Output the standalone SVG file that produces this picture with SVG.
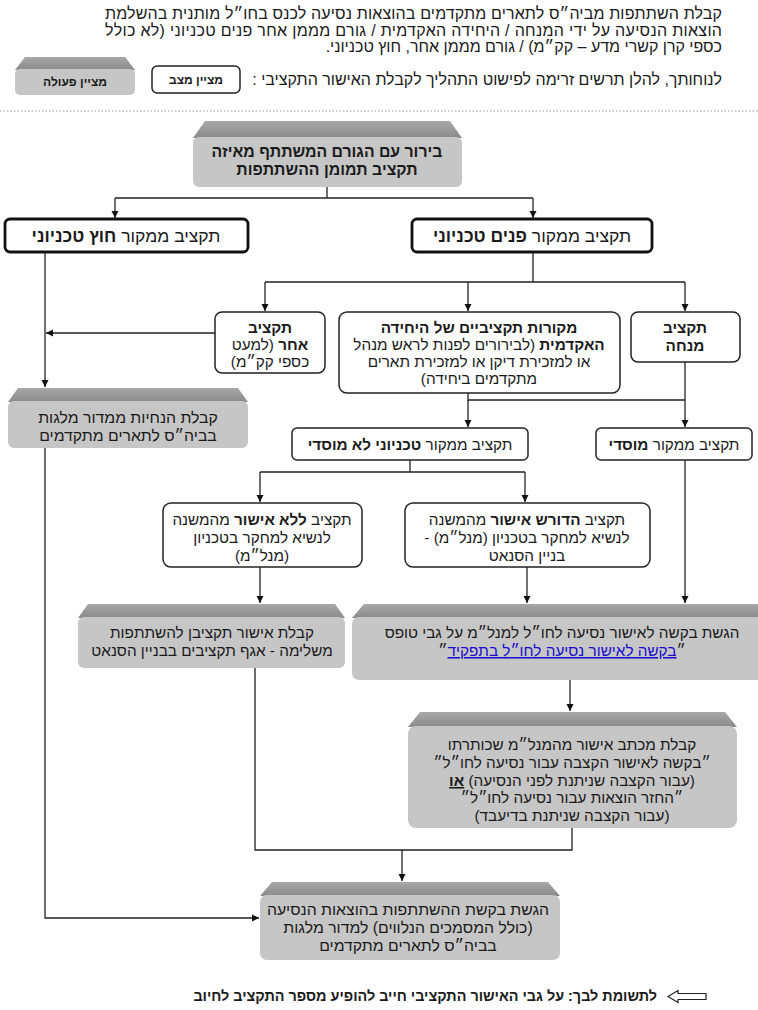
<svg xmlns="http://www.w3.org/2000/svg" width="758" height="1010" viewBox="0 0 758 1010">
<defs>
<marker id="ah" markerWidth="8" markerHeight="8" refX="7" refY="4" orient="auto" markerUnits="userSpaceOnUse">
<path d="M0,0.5 L7,4 L0,7.5 Z" fill="#111"/>
</marker>
<linearGradient id="bev" x1="0" y1="0" x2="0" y2="1">
<stop offset="0" stop-color="#a8a8a8"/>
<stop offset="1" stop-color="#8a8a8a"/>
</linearGradient>
</defs>
<style>
text{font-family:"Liberation Sans",Arial,"DejaVu Sans",sans-serif;fill:#1a1a1a;direction:rtl;}
.c{text-anchor:middle;font-size:15.3px;}
.h{font-size:16px;text-anchor:start;}
.b{font-weight:bold;}
.st{fill:#fff;stroke:#222;stroke-width:1.5;}
.stb{fill:#fff;stroke:#111;stroke-width:2.8;}
.body{fill:#c6c6c6;}
.bevel{fill:url(#bev);}
.ln{fill:none;stroke:#222;stroke-width:1.3;}
.ar{fill:none;stroke:#222;stroke-width:1.3;marker-end:url(#ah);}
.lnk{fill:#1a0dcc;text-decoration:underline;}
</style>
<rect width="758" height="1010" fill="#fff"/>

<g id="header">
<text class="h" x="722" y="19" textLength="617" lengthAdjust="spacing">קבלת השתתפות מביה״ס לתארים מתקדמים בהוצאות נסיעה לכנס בחו״ל מותנית בהשלמת</text>
<text class="h" x="722" y="36" textLength="617" lengthAdjust="spacing">הוצאות הנסיעה על ידי המנחה / היחידה האקדמית / גורם מממן אחר פנים טכניוני (לא כולל</text>
<text class="h" x="722" y="52">כספי קרן קשרי מדע – קק״מ) / גורם מממן אחר, חוץ טכניוני.</text>
<text class="h" x="722" y="85">לנוחותך, להלן תרשים זרימה לפישוט התהליך לקבלת האישור התקציבי :</text>
</g>

<g id="legend-action">
<path class="bevel" d="M25,57 L125,57 L135,70 L15,70 Z"/>
<rect class="body" x="15" y="69" width="120" height="26" rx="5"/>
<text class="c b" x="75" y="86" style="font-size:12px">מציין פעולה</text>
</g>
<g id="legend-state">
<rect class="st" x="152" y="66" width="88" height="27" rx="5"/>
<text class="c b" x="196" y="84" style="font-size:12px">מציין מצב</text>
</g>

<line x1="0" y1="111" x2="758" y2="111" stroke="#999" stroke-width="1" stroke-dasharray="1.5,2"/>

<g id="connectors">
<path class="ln" d="M327,187 V198 M115,198 H533"/>
<path class="ar" d="M115,198 V218"/>
<path class="ar" d="M533,198 V218"/>
<path class="ar" d="M45,252 V387"/>
<path class="ar" d="M215,333 H46"/>
<path class="ln" d="M533,252 V282 M265,282 H685"/>
<path class="ar" d="M265,282 V311"/>
<path class="ar" d="M468,282 V311"/>
<path class="ar" d="M685,282 V311"/>
<path class="ln" d="M468,393 V400 H685"/>
<path class="ar" d="M468,400 V427"/>
<path class="ar" d="M685,362 V427"/>
<path class="ln" d="M410,460 V472 M260,472 H525"/>
<path class="ar" d="M260,472 V502"/>
<path class="ar" d="M525,472 V502"/>
<path class="ar" d="M685,460 V603"/>
<path class="ar" d="M260,567 V603"/>
<path class="ar" d="M527,567 V603"/>
<path class="ar" d="M570,680 V711"/>
<path class="ln" d="M255,668 V850 H572 V828"/>
<path class="ar" d="M402,850 V881"/>
<path class="ar" d="M45,448 V918 H259"/>
</g>

<g id="n-top">
<path class="bevel" d="M205,121 L450,121 L462,138 L193,138 Z"/>
<rect class="body" x="193" y="137" width="269" height="50" rx="6"/>
<text class="c b" x="327" y="157" style="font-size:15.8px">בירור עם הגורם המשתתף מאיזה</text>
<text class="c b" x="327" y="175" style="font-size:15.8px">תקציב תמומן ההשתתפות</text>
</g>

<g id="n-external">
<rect class="stb" x="5" y="219" width="243" height="33" rx="5"/>
<text class="c" x="126" y="242" style="font-size:17.5px">תקציב ממקור <tspan class="b">חוץ טכניוני</tspan></text>
</g>
<g id="n-internal">
<rect class="stb" x="412" y="219" width="240" height="33" rx="5"/>
<text class="c" x="532" y="242" style="font-size:17.5px">תקציב ממקור <tspan class="b">פנים טכניוני</tspan></text>
</g>

<g id="n-other">
<rect class="st" x="215" y="312" width="110" height="61" rx="7"/>
<text class="c b" x="270" y="333">תקציב</text>
<text class="c" x="270" y="350"><tspan class="b">אחר</tspan> (למעט</text>
<text class="c" x="270" y="367">כספי קק״מ)</text>
</g>
<g id="n-unit">
<rect class="st" x="339" y="312" width="281" height="81" rx="8"/>
<text class="c b" x="479" y="333">מקורות תקציביים של היחידה</text>
<text class="c" x="479" y="350"><tspan class="b">האקדמית</tspan> (לבירורים לפנות לראש מנהל</text>
<text class="c" x="479" y="367">או למזכירת דיקן או למזכירת תארים</text>
<text class="c" x="479" y="384">מתקדמים ביחידה)</text>
</g>
<g id="n-advisor">
<rect class="st" x="631" y="312" width="109" height="50" rx="7"/>
<text class="c b" x="685" y="333">תקציב</text>
<text class="c b" x="685" y="351">מנחה</text>
</g>

<g id="n-guidance">
<path class="bevel" d="M18,388 L238,388 L248,402 L8,402 Z"/>
<rect class="body" x="8" y="401" width="240" height="47" rx="6"/>
<text class="c" x="128" y="423" style="font-size:15.8px">קבלת הנחיות ממדור מלגות</text>
<text class="c" x="128" y="441" style="font-size:15.8px">בביה״ס לתארים מתקדמים</text>
</g>

<g id="n-noninst">
<rect class="st" x="292" y="428" width="236" height="32" rx="5"/>
<text class="c" x="410" y="450">תקציב ממקור <tspan class="b">טכניוני לא מוסדי</tspan></text>
</g>
<g id="n-inst">
<rect class="st" x="596" y="428" width="156" height="32" rx="5"/>
<text class="c" x="674" y="450">תקציב ממקור <tspan class="b">מוסדי</tspan></text>
</g>

<g id="n-noapproval">
<rect class="st" x="163" y="503" width="199" height="64" rx="8"/>
<text class="c" x="262" y="525">תקציב <tspan class="b">ללא אישור</tspan> מהמשנה</text>
<text class="c" x="262" y="543">לנשיא למחקר בטכניון</text>
<text class="c" x="262" y="561">(מנל״מ)</text>
</g>
<g id="n-approval">
<rect class="st" x="405" y="503" width="245" height="64" rx="8"/>
<text class="c" x="527" y="525">תקציב <tspan class="b">הדורש אישור</tspan> מהמשנה</text>
<text class="c" x="527" y="543">לנשיא למחקר בטכניון (מנל״מ) -</text>
<text class="c" x="527" y="561">בניין הסנאט</text>
</g>

<g id="n-budgetdept">
<path class="bevel" d="M88,604 L335,604 L345,618 L78,618 Z"/>
<rect class="body" x="78" y="617" width="267" height="51" rx="6"/>
<text class="c" x="212" y="638">קבלת אישור תקציבן להשתתפות</text>
<text class="c" x="212" y="656">משלימה - אגף תקציבים בבניין הסנאט</text>
</g>

<g id="n-request">
<path class="bevel" d="M364,604 L762,604 L770,618 L352,618 Z"/>
<rect class="body" x="352" y="617" width="418" height="63" rx="7"/>
<text class="c" x="562" y="638">הגשת בקשה לאישור נסיעה לחו״ל למנל״מ על גבי טופס</text>
<text class="c" x="562" y="656">״<tspan class="lnk">בקשה לאישור נסיעה לחו״ל בתפקיד</tspan>״</text>
</g>

<g id="n-letter">
<path class="bevel" d="M420,712 L725,712 L737,727 L408,727 Z"/>
<rect class="body" x="408" y="726" width="329" height="102" rx="8"/>
<text class="c" x="572" y="750">קבלת מכתב אישור מהמנל״מ שכותרתו</text>
<text class="c" x="572" y="768">״בקשה לאישור הקצבה עבור נסיעה לחו״ל״</text>
<text class="c" x="572" y="786">(עבור הקצבה שניתנת לפני הנסיעה) <tspan class="b" text-decoration="underline">או</tspan></text>
<text class="c" x="572" y="803">״החזר הוצאות עבור נסיעה לחו״ל״</text>
<text class="c" x="572" y="821">(עבור הקצבה שניתנת בדיעבד)</text>
</g>

<g id="n-final">
<path class="bevel" d="M272,882 L548,882 L560,896 L260,896 Z"/>
<rect class="body" x="260" y="895" width="300" height="65" rx="7"/>
<text class="c" x="408" y="915" style="font-size:15.8px">הגשת בקשת ההשתתפות בהוצאות הנסיעה</text>
<text class="c" x="408" y="933" style="font-size:15.8px">(כולל המסמכים הנלווים) למדור מלגות</text>
<text class="c" x="408" y="951" style="font-size:15.8px">בביה״ס לתארים מתקדמים</text>
</g>

<g id="note">
<path d="M668,996.5 L678,990.5 L678,993.5 L706,993.5 L706,999.5 L678,999.5 L678,1002.5 Z" fill="#fff" stroke="#222" stroke-width="1.2"/>
<text class="b" x="657" y="1001" style="font-size:14.4px;text-anchor:start">לתשומת לבך:  על גבי האישור התקציבי חייב להופיע מספר התקציב  לחיוב</text>
</g>
</svg>
